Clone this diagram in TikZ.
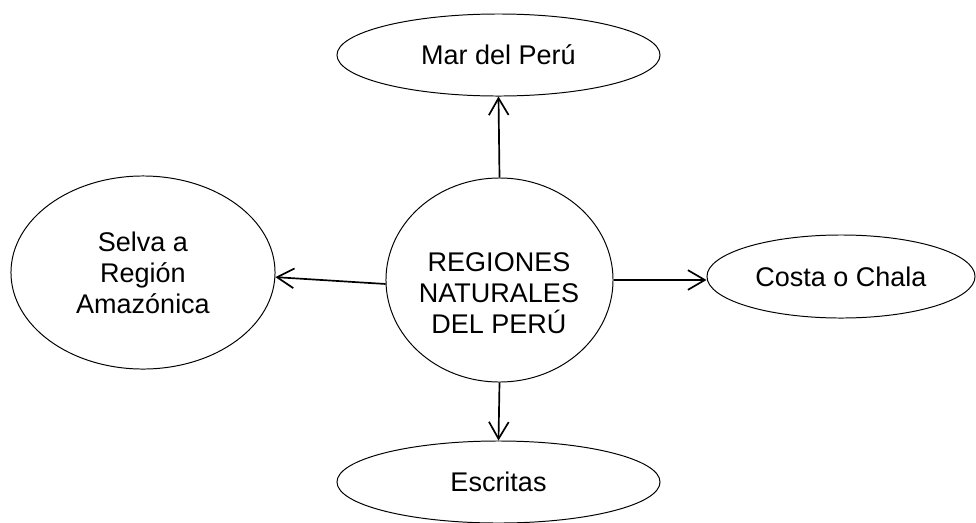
\documentclass[tikz,border=0pt]{standalone}
\usepackage{fontspec}
\setmainfont{Liberation Sans}
\usetikzlibrary{shapes.geometric,arrows.meta}
\tikzset{>={Straight Barb[length=12pt,width=14pt]}}
\tikzset{region/.style={draw,ellipse,inner sep=0pt,line width=0.7pt,align=center,font=\regfont}}
\newcommand{\regfont}{\fontsize{19.2}{22}\selectfont}

\begin{document}
\begin{tikzpicture}[x=0.025cm,y=-0.025cm]
\useasboundingbox (0,0) rectangle (976,522);
\node[region,minimum width=5.675cm,minimum height=5.1cm] (reg) at (499.5,280) {};
\node[align=center,font=\regfont] (regtext) at (499,293) {REGIONES\\NATURALES\\DEL PERÚ};
\node[region,minimum width=8.075cm,minimum height=2.05cm] (mar) at (498.5,55) {Mar del Perú};
\node[region,minimum width=6.6cm,minimum height=4.825cm] (selva) at (143,272.5) {Selva a\\Región\\Amazónica};
\node[region,minimum width=6.7cm,minimum height=2.075cm] (costa) at (841,276.5) {Costa o Chala};
\node[region,minimum width=8.075cm,minimum height=2.05cm] (escr) at (498.5,482) {Escritas};
\draw[->,line width=1.2pt] (reg.north) -- (mar.south);
\draw[->,line width=1.2pt] (reg.182) -- (selva.-2);
\draw[->,line width=1.2pt] (reg.east) -- (reg.east -| costa.west);
\draw[->,line width=1.2pt] (reg.south) -- (escr.north);
\end{tikzpicture}
\end{document}
